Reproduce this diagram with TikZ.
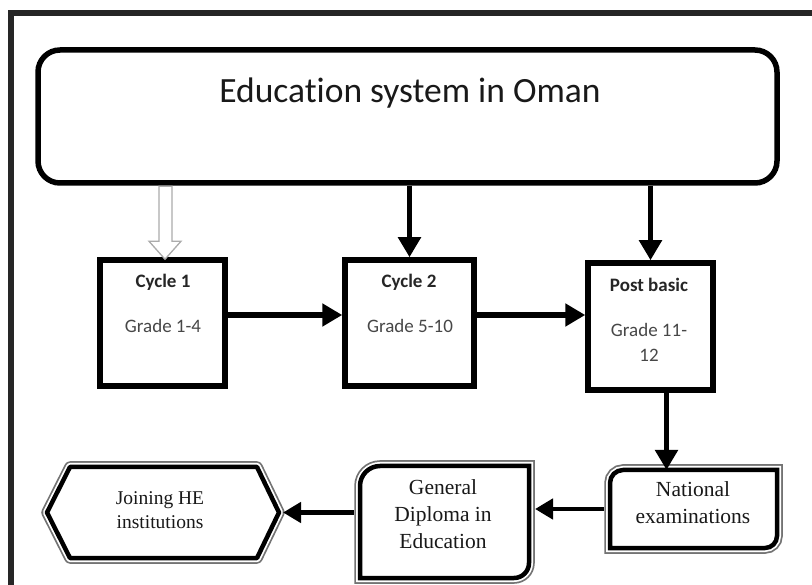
\documentclass[tikz,border=0pt]{standalone}
\usepackage{fontspec}
\setmainfont{Liberation Serif}
\setsansfont{Carlito}[Ligatures=NoCommon]
\usetikzlibrary{calc,arrows.meta}

% Bottom boxes: grey outer rule, white gap, heavy black rule
\newcommand{\ruledshape}[2]{%
  \draw[black!55, line width=11.5pt, line join=#1] #2;
  \draw[white, line width=8pt, line join=#1] #2;
  \fill[white] #2;
  \draw[black, line width=4.5pt, line join=#1] #2;}

\begin{document}
\begin{tikzpicture}[x=1pt, y=-1pt,
  stagebox/.style={draw=black, line width=5.5pt, fill=white, rectangle, inner sep=0pt},
  holder/.style={rectangle, inner sep=0pt, outer sep=0pt},
  arr/.style={draw=black, line width=5.5pt, -{Triangle[length=20pt, width=22pt]}},
  arrlow/.style={draw=black, line width=4.5pt, -{Triangle[length=18pt, width=20pt]}},
  stagetitle/.style={font=\sffamily\bfseries\fontsize{19}{23}\selectfont, text=black!85},
  gradetxt/.style={font=\sffamily\fontsize{19}{25}\selectfont, text=black!72, align=center},
  serifbox/.style={font=\fontsize{21.5}{27}\selectfont, text=black!90, align=center},
]
\useasboundingbox (0,0) rectangle (812,585);
\fill[white] (0,0) rectangle (812,585);

% outer frame
\draw[black!85, line width=6pt] (815,13) -- (11,13) -- (11,590);

% heading box
\node[draw=black, line width=5.5pt, rounded corners=22pt, fill=white,
      minimum width=739pt, minimum height=133pt, inner sep=0pt] (sys) at (407.5,116.5) {};
\node[font=\sffamily\fontsize{35.5}{42}\selectfont, text=black!90] (systitle) at (410,93) {Education system in Oman};

% stage boxes
\node[stagebox, minimum width=125pt, minimum height=126pt] (c1) at (162.5,323) {};
\node[stagebox, minimum width=129pt, minimum height=126pt] (c2) at (409.5,323) {};
\node[stagebox, minimum width=125pt, minimum height=127pt] (pb) at (650.5,326.5) {};

\node[stagetitle] (c1t) at (163,282) {Cycle 1};
\node[gradetxt] (c1g) at (163,326) {Grade 1-4};
\node[stagetitle] (c2t) at (409,282) {Cycle 2};
\node[gradetxt] (c2g) at (410,326) {Grade 5-10};
\node[stagetitle] (pbt) at (649,285) {Post basic};
\node[gradetxt] (pbg) at (649,342.5) {Grade 11-\\12};

% hollow arrow into Cycle 1
\coordinate (hollowtip) at ($(c1.north)+(2.5,2)$);
\draw[gray!65, line width=1.3pt, fill=white, line join=miter]
  (hollowtip) -- ++(-16,-18) -- ++(10,0) -- ++(0,-55) -- ++(13,0) -- ++(0,55) -- ++(9,0) -- cycle;

% solid arrows
\draw[arr] (sys.south -| c2.north) -- (c2.north);
\draw[arr] (sys.south -| pb.north) -- (pb.north);
\draw[arr] ([yshift=8pt]c1.east) -- ([yshift=8pt]c2.west);
\draw[arr] ([yshift=8pt]c2.east) -- ([yshift=8pt]c2.east -| pb.west);

% bottom row frames
\node[holder, minimum width=167pt, minimum height=78pt] (nat) at (693.5,509) {};
\node[holder, minimum width=169pt, minimum height=112pt] (gd) at (444.5,522) {};
\node[holder, minimum width=232pt, minimum height=91pt] (he) at (163,512.5) {};

\ruledshape{miter}{(nat.west) -- ($(nat.north west)+(0,13)$) arc[start angle=180, end angle=90, radius=13pt]
  -- (nat.north east) -- ($(nat.south east)+(0,-12)$) arc[start angle=0, end angle=-90, radius=12pt]
  -- (nat.south west) -- cycle}
\ruledshape{miter}{(gd.west) -- ($(gd.north west)+(0,20)$) arc[start angle=180, end angle=90, radius=20pt]
  -- (gd.north east) -- ($(gd.south east)+(0,-15)$) arc[start angle=0, end angle=-90, radius=15pt]
  -- (gd.south west) -- cycle}
\ruledshape{round}{(he.west) -- ($(he.north west)+(23,0)$) -- ($(he.north east)+(-22,0)$)
  -- (he.east) -- ($(he.south east)+(-22,0)$) -- ($(he.south west)+(23,0)$) -- cycle}

\node[serifbox] (natt) at (693,503) {National\\examinations};
\node[serifbox] (gdt) at (443,514) {General\\Diploma in\\Education};
\node[serifbox, font=\fontsize{19.5}{24}\selectfont] (het) at (160,510) {Joining HE\\institutions};

% arrows along the bottom row
\draw[arr] ([xshift=16pt]pb.south) -- ([xshift=16pt]pb.south |- nat.north);
\draw[arrlow] ([xshift=-6pt]nat.west) -- ([xshift=6pt]gd.east |- nat.west);
\draw[arrlow] ([xshift=-6pt]gd.west |- he.east) -- ([xshift=4pt]he.east);
\end{tikzpicture}
\end{document}
